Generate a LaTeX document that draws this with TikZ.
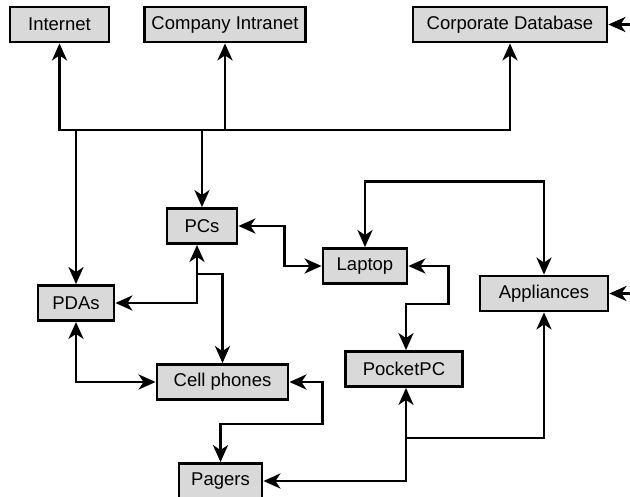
\documentclass[tikz,border=0pt]{standalone}
\usepackage{fontspec}
\setmainfont{Liberation Sans}
\usetikzlibrary{arrows.meta,positioning}

\tikzset{
  device/.style={draw, line width=2.8pt, fill=black!15, minimum height=35pt,
    inner sep=0pt, font=\fontsize{18.5}{20}\selectfont},
  link/.style={line width=2.8pt, -{Stealth[length=17pt,width=15pt,inset=5pt]}},
  dlink/.style={line width=2.8pt,
    {Stealth[length=17pt,width=15pt,inset=5pt]}-{Stealth[length=17pt,width=15pt,inset=5pt]}},
}

\begin{document}
\begin{tikzpicture}[x=1pt,y=-1pt]
  \useasboundingbox (0,0) rectangle (630,496);

  % servers
  \node[device, minimum width=99pt] (internet) at (59.5,24.5) {Internet};
  \node[device, minimum width=161pt] (intranet) at (225,24.5) {Company Intranet};
  \node[device, minimum width=194pt] (db) at (510,24.5) {Corporate Database};

  % clients
  \node[device, minimum width=70pt] (pcs) at (202,226) {PCs};
  \node[device, minimum width=76pt] (pdas) at (76,303) {PDAs};
  \node[device, minimum width=84pt] (laptop) at (365,266) {Laptop};
  \node[device, minimum width=128pt] (appl) at (544,293.5) {Appliances};
  \node[device, minimum width=131pt] (cell) at (222.5,382) {Cell phones};
  \node[device, minimum width=117pt] (pocket) at (404,369) {PocketPC};
  \node[device, minimum width=83pt] (pagers) at (220.5,481) {Pagers};

  \coordinate (busl) at (59.5,130);
  \coordinate (busr) at (510,130);
  \coordinate (split) at (197,274);
  \coordinate (split2) at (406,438);
  \coordinate (dbfeed) at (630,24.5);
  \coordinate (applfeed) at (630,293.5);

  % bus to the servers
  \draw[dlink] (internet.south) -- (busl) -- (busr) -- (db.south);
  \draw[link] (intranet.south |- busl) -- (intranet.south);
  \draw[link] (pdas.north |- busl) -- (pdas.north);
  \draw[link] (pcs.north |- busl) -- (pcs.north);

  % client links
  \draw[dlink] (pcs.east) -- ++(46,0) |- (laptop.west);
  \draw[dlink] (pdas.east) -| ([xshift=-5pt]pcs.south);
  \draw[link] (split) -| (cell.north);
  \draw[dlink] (pdas.south) |- (cell.west);
  \draw[dlink] (cell.east) -- ++(33,0) -- ++(0,42) -| (pagers.north);
  \draw[dlink] (laptop.north) -- ++(0,-66) -| (appl.north);
  \draw[dlink] (laptop.east) -- ++(40,0) -- ++(0,38) -| ([xshift=2pt]pocket.north);
  \draw[dlink] ([xshift=2pt]pocket.south) |- (pagers.east);
  \draw[link] (split2) -| (appl.south);

  % feeds from the right
  \draw[link] (dbfeed) -- (db.east);
  \draw[link] (applfeed) -- (appl.east);
\end{tikzpicture}
\end{document}
